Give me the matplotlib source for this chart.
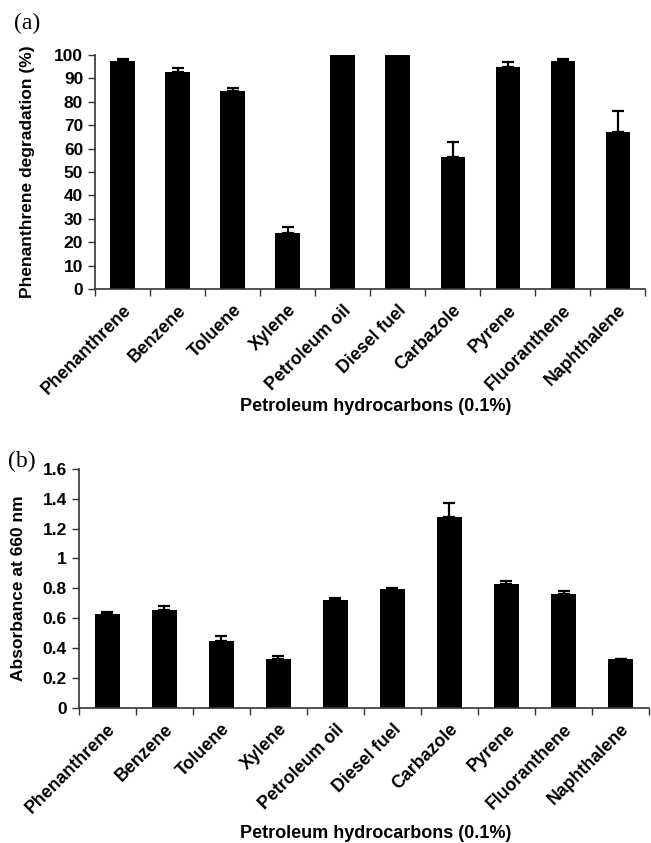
import matplotlib
matplotlib.use("Agg")
import matplotlib.pyplot as plt
import numpy as np
from matplotlib.ticker import FixedLocator, FuncFormatter


CATEGORIES = [
    "Phenanthrene", "Benzene", "Toluene", "Xylene", "Petroleum oil",
    "Diesel fuel", "Carbazole", "Pyrene", "Fluoranthene", "Naphthalene",
]

# (a) phenanthrene degradation, %
DEGRADATION = [97.5, 92.5, 84.5, 24.0, 100.0, 100.0, 56.5, 95.0, 97.5, 67.0]
DEGRADATION_ERR = [0.6, 2.0, 1.5, 2.5, 0.0, 0.0, 6.5, 2.0, 0.8, 9.0]

# (b) growth, absorbance at 660 nm
ABSORBANCE = [0.63, 0.655, 0.45, 0.325, 0.725, 0.795, 1.28, 0.83, 0.765, 0.325]
ABSORBANCE_ERR = [0.01, 0.025, 0.03, 0.02, 0.01, 0.01, 0.09, 0.02, 0.02, 0.005]

plt.rcParams["font.family"] = ["Liberation Sans", "DejaVu Sans"]
plt.rcParams["font.weight"] = "bold"

AXIS_COLOR = "#333333"


def draw_panel(ax, values, errors, ylim, yticks, ylabel, fmt, ylabelpad, xlabel_xy):
    x = np.arange(len(CATEGORIES))
    ax.bar(x, values, width=0.44, color="black", zorder=2)
    ax.errorbar(
        x, values, yerr=[np.zeros(len(errors)), errors], fmt="none",
        ecolor="black", elinewidth=1.6, capsize=4, capthick=1.6, zorder=3,
    )

    ax.set_xlim(-0.5, len(CATEGORIES) - 0.5)
    ax.set_ylim(*ylim)
    ax.set_yticks(yticks)
    ax.yaxis.set_major_formatter(FuncFormatter(fmt))

    ax.set_xticks(x)
    ax.set_xticklabels(
        CATEGORIES, rotation=45, ha="right", rotation_mode="anchor",
        fontsize=12.8, fontweight="bold",
    )
    ax.xaxis.set_minor_locator(FixedLocator(np.arange(len(CATEGORIES) + 1) - 0.5))
    ax.tick_params(axis="x", which="major", length=0, pad=9)
    ax.tick_params(axis="x", which="minor", length=5, width=1, color=AXIS_COLOR,
                   direction="out")
    ax.tick_params(axis="y", length=5, width=1, color=AXIS_COLOR, labelsize=12.5)
    for label in ax.get_yticklabels():
        label.set_fontweight("bold")

    for side in ("top", "right"):
        ax.spines[side].set_visible(False)
    for side in ("left", "bottom"):
        ax.spines[side].set_color(AXIS_COLOR)
        ax.spines[side].set_linewidth(1.2)

    ax.set_ylabel(ylabel, fontsize=12.5, fontweight="bold", labelpad=ylabelpad)
    ax.set_xlabel("Petroleum hydrocarbons (0.1%)", fontsize=13,
                  fontweight="bold", va="center")
    ax.xaxis.set_label_coords(*xlabel_xy)


fig = plt.figure(figsize=(6.51, 8.43), dpi=100)

ax_a = fig.add_axes([0.146, 0.657, 0.845, 0.278])
draw_panel(ax_a, DEGRADATION, DEGRADATION_ERR, (0, 100), np.arange(0, 101, 10),
           "Phenanthrene degradation (%)", lambda v, _: f"{v:.0f}",
           ylabelpad=14, xlabel_xy=(0.51, -0.5))

ax_b = fig.add_axes([0.121, 0.160, 0.876, 0.284])
draw_panel(ax_b, ABSORBANCE, ABSORBANCE_ERR, (0, 1.6), np.arange(0, 1.61, 0.2),
           "Absorbance at 660 nm", lambda v, _: f"{v:.1f}".rstrip("0").rstrip("."),
           ylabelpad=12, xlabel_xy=(0.52, -0.525))

fig.text(0.022, 0.985, "(a)", family="Liberation Serif", fontsize=17,
         fontweight="normal", va="top")
fig.text(0.012, 0.465, "(b)", family="Liberation Serif", fontsize=17,
         fontweight="normal", va="top")

fig.savefig("out.png", dpi=100)
